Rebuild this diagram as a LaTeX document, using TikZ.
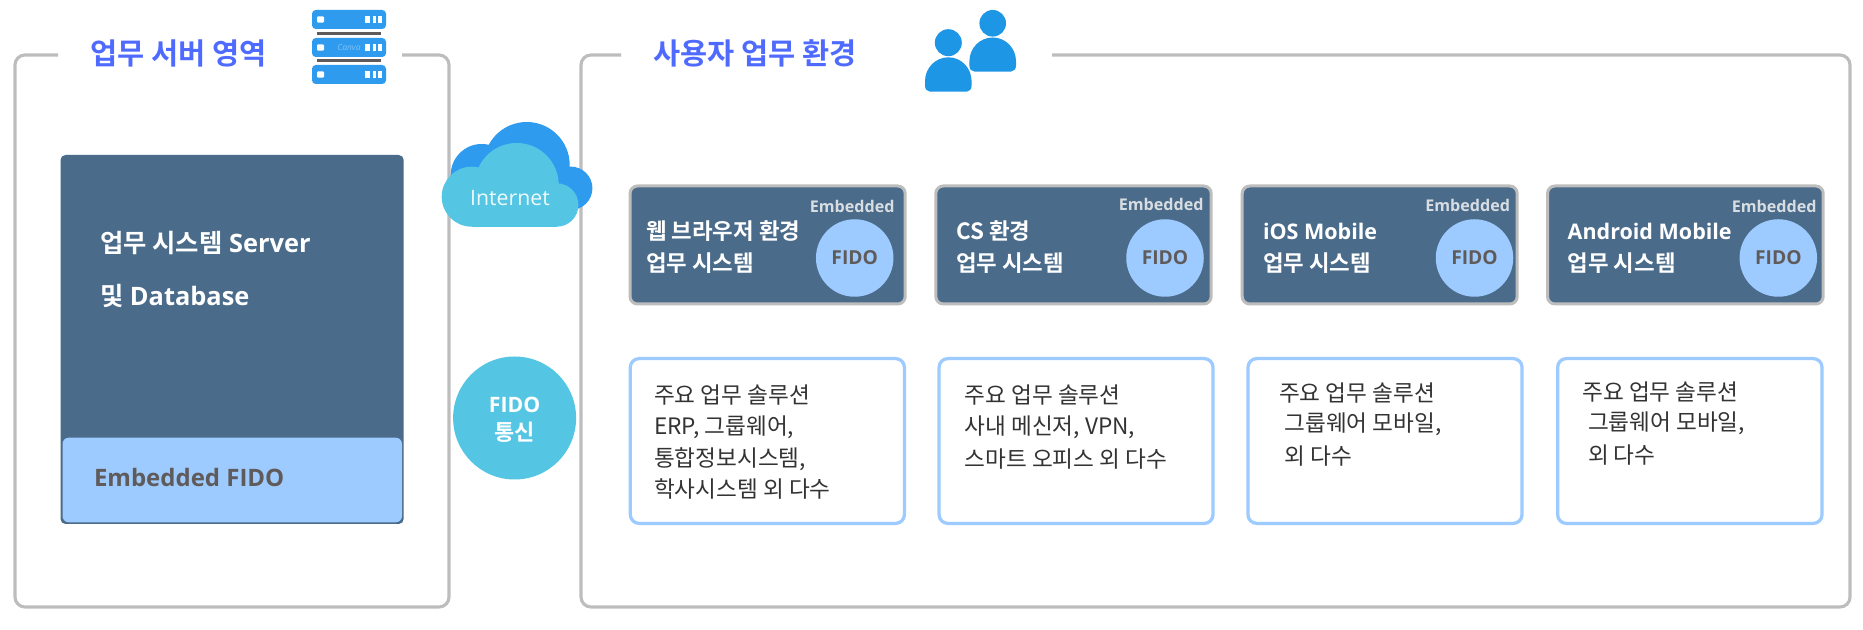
\documentclass[tikz,border=0pt]{standalone}
\usepackage{fontspec}
\setmainfont{Open Sans}
\newfontfamily\kr{Noto Sans CJK KR}[BoldFont={Noto Sans CJK KR Bold}]
\definecolor{frameg}{HTML}{BDBDBD}
\definecolor{slate}{HTML}{4A6B8A}
\definecolor{sky}{HTML}{9ECBFF}
\definecolor{cyanb}{HTML}{54C6E4}
\definecolor{cloudb}{HTML}{2F9BEF}
\definecolor{iconb}{HTML}{2E9BEE}
\definecolor{userb}{HTML}{1E96E6}
\definecolor{titleb}{HTML}{4F6BFF}
\definecolor{darkt}{HTML}{5F5B5B}
\definecolor{bodyt}{HTML}{333333}
\definecolor{embt}{HTML}{D8DDE2}
\tikzset{
  x=0.4pt,y=-0.4pt,
  framepath/.style={draw=frameg,line width=1.25pt,rounded corners=4pt},
  txt/.style={inner sep=0pt,outer sep=0pt,anchor=west,align=left},
  titletxt/.style={txt,text=titleb,font=\kr\bfseries\fontsize{11.8}{14}\selectfont},
  cardbox/.style={draw=frameg,fill=slate,line width=1.2pt,rounded corners=3pt},
  cardtxt/.style={txt,text=white,font=\kr\bfseries\fontsize{8.95}{11}\selectfont},
  cardlat/.style={txt,text=white,font=\bfseries\fontsize{8.6}{11}\selectfont},
  embtxt/.style={inner sep=0pt,anchor=east,text=embt,font=\bfseries\fontsize{6.45}{8}\selectfont},
  fidodisc/.style={circle,fill=sky,minimum size=31pt,inner sep=0pt,text=darkt,font=\bfseries\fontsize{7.7}{9}\selectfont},
  solbox/.style={draw=sky,fill=white,line width=1.3pt,rounded corners=3.5pt},
  soltxt/.style={txt,text=bodyt,font=\kr\fontsize{9.05}{11}\selectfont},
  srv/.style={fill=iconb,rounded corners=1.5pt},
}
\newcommand{\userbody}{(-23.3,24) .. controls (-23.3,10.7) and (-12.9,0) .. (0,0) .. controls (12.9,0) and (23.3,10.7) .. (23.3,24) -- (23.3,28.4) .. controls (23.3,31.7) and (21.3,34.4) .. (18.3,34.4) -- (-18.3,34.4) .. controls (-21.3,34.4) and (-23.3,31.7) .. (-23.3,28.4) -- cycle}
\newcommand{\srvunit}[1]{%
  \fill[srv] (312,#1) rectangle (386,#1+19);
  \fill[white,rounded corners=0.4pt] (317,#1+6.3) rectangle (324,#1+12.7);
  \fill[white] (364.6,#1+6.3) rectangle (369.7,#1+12.7);
  \fill[white] (372.5,#1+6.3) rectangle (375.6,#1+12.7);
  \fill[white] (377.6,#1+6.3) rectangle (381.6,#1+12.7);
}
\begin{document}
\begin{tikzpicture}
\useasboundingbox (0,0) rectangle (1863,630);
\fill[white] (0,0) rectangle (1863,630);
% outer frames
\draw[framepath] (58,55) -- (15,55) -- (15,607) -- (449,607) -- (449,55) -- (402,55);
\draw[framepath] (621,55) -- (581,55) -- (581,607) -- (1850,607) -- (1850,55) -- (1052,55);
% titles
\node[titletxt] (t1) at (90.5,53) {업무 서버 영역};
\node[titletxt] (t2) at (653,53) {사용자 업무 환경};
% server icon
\srvunit{10}
\srvunit{38}
\srvunit{65}
\fill[darkt] (317,32) rectangle (381,35);
\fill[darkt] (317,59.5) rectangle (381,62.5);
\node[inner sep=0pt,text=white!40!iconb,font=\itshape\fontsize{3.4}{4}\selectfont] (canva) at (349,47.5) {Canva};
% users icon
\fill[userb] (992.7,23.3) circle[radius=13.3];
\fill[userb,shift={(992.7,37.5)},yscale=0.99] \userbody;
\fill[userb] (948.3,42.7) circle[radius=13.5];
\fill[userb,shift={(948.3,57.3)}] \userbody;
% server block
\fill[slate,rounded corners=2pt] (60.5,155) rectangle (403.7,524);
\fill[sky,rounded corners=2.5pt] (62.5,437.7) rectangle (402,522.3);
\node[txt,text=white,font=\bfseries\fontsize{10.15}{12}\selectfont] (srv1) at (100,243.5) {{\kr 업무 시스템} Server};
\node[txt,text=white,font=\bfseries\fontsize{10.15}{12}\selectfont] (srv2) at (100,295.5) {{\kr 및} Database};
\node[txt,text=darkt,font=\bfseries\fontsize{9.6}{12}\selectfont] (emb) at (94,478) {Embedded FIDO};
% cloud
\fill[cloudb] (526.7,165) circle[radius=43] (481.7,175) circle[radius=31] (570.7,188.3) circle[radius=21.7];
\fill[cloudb] (481.7,175) rectangle (571,205);
\fill[cyanb] (516.7,185) circle[radius=42] (471.7,196.7) circle[radius=30] (556.7,205) circle[radius=21.7];
\fill[cyanb] (471.7,190) rectangle (556.7,226.7);
\node[inner sep=0pt,text=white!90!cyanb,font=\fontsize{8.5}{10}\selectfont] (inet) at (510,198) {Internet};
% FIDO comms
\node[circle,fill=cyanb,minimum size=49.2pt,inner sep=0pt] (comm) at (514.6,418) {};
\node[inner sep=0pt,text=white,font=\bfseries\fontsize{8.5}{10}\selectfont] (commA) at (514.6,404.5) {FIDO};
\node[inner sep=0pt,text=white,font=\kr\bfseries\fontsize{8.8}{10}\selectfont] (commB) at (514.6,432) {통신};
% cards
\draw[cardbox] (630,186) rectangle (905.2,304);
\draw[cardbox] (935.8,186) rectangle (1211.2,304);
\draw[cardbox] (1242.2,186) rectangle (1517.2,304);
\draw[cardbox] (1547.5,186) rectangle (1823.2,304);
\node[embtxt] (e1) at (895,206) {Embedded};
\node[embtxt] (e2) at (1204,204) {Embedded};
\node[embtxt] (e3) at (1510.5,205) {Embedded};
\node[embtxt] (e4) at (1817,206) {Embedded};
\node[fidodisc] (f1) at (854.7,258) {FIDO};
\node[fidodisc] (f2) at (1165,258) {FIDO};
\node[fidodisc] (f3) at (1474.5,258) {FIDO};
\node[fidodisc] (f4) at (1778.3,258) {FIDO};
\node[cardtxt] (c1a) at (646,231) {웹 브라우저 환경};
\node[cardtxt] (c1b) at (646,262.7) {업무 시스템};
\node[cardtxt] (c2a) at (956,231) {CS 환경};
\node[cardtxt] (c2b) at (956,262.7) {업무 시스템};
\node[cardlat] (c3a) at (1263,231) {iOS Mobile};
\node[cardtxt] (c3b) at (1263,262.7) {업무 시스템};
\node[cardlat] (c4a) at (1567.7,231) {Android Mobile};
\node[cardtxt] (c4b) at (1567.7,262.7) {업무 시스템};
% solution boxes
\draw[solbox] (630.3,358.6) rectangle (904.4,523.4);
\draw[solbox] (939.1,358.6) rectangle (1213,523.4);
\draw[solbox] (1248,358.6) rectangle (1522,523.4);
\draw[solbox] (1557.6,358.6) rectangle (1822,523.4);
\node[soltxt] (s1a) at (654,395) {주요 업무 솔루션};
\node[soltxt] (s1b) at (654,427) {ERP, 그룹웨어,};
\node[soltxt] (s1c) at (654,459) {통합정보시스템,};
\node[soltxt] (s1d) at (654,489) {학사시스템 외 다수};
\node[soltxt] (s2a) at (964.6,395) {주요 업무 솔루션};
\node[soltxt] (s2b) at (964.6,427) {사내 메신저, VPN,};
\node[soltxt] (s2c) at (964.6,459) {스마트 오피스 외 다수};
\node[soltxt] (s3a) at (1279,393) {주요 업무 솔루션};
\node[soltxt] (s3b) at (1284.5,424) {그룹웨어 모바일,};
\node[soltxt] (s3c) at (1284.5,456) {외 다수};
\node[soltxt] (s4a) at (1582.4,392) {주요 업무 솔루션};
\node[soltxt] (s4b) at (1588,423) {그룹웨어 모바일,};
\node[soltxt] (s4c) at (1588,455) {외 다수};
\end{tikzpicture}
\end{document}
